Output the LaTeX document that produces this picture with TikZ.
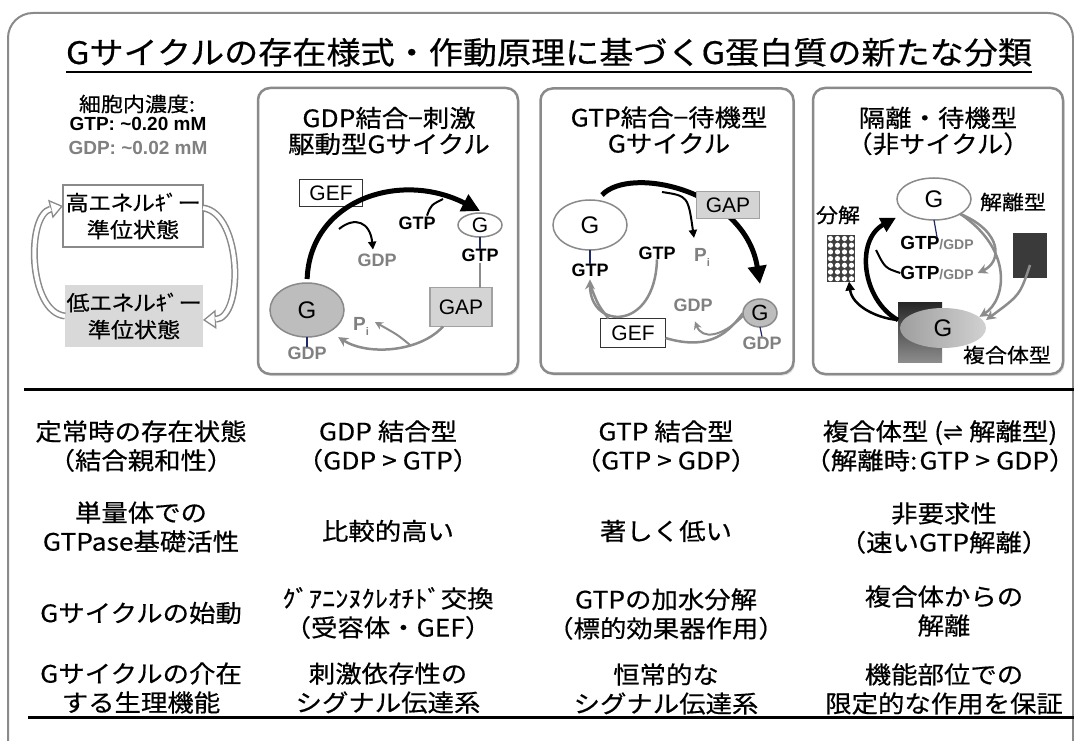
\documentclass[tikz,border=0pt]{standalone}
\usepackage{fontspec}
\setmainfont{Noto Sans CJK JP}[FakeStretch=1.1,FakeBold=0.5]
\newfontfamily\jpp{Noto Sans CJK JP}[FakeStretch=1.1,FakeBold=0.5,RawFeature=+palt]
\newfontfamily\arial{Liberation Sans}
\newfontfamily\dejavu{DejaVu Sans}
\usetikzlibrary{arrows.meta,shapes.geometric,shadows}
\definecolor{bord}{HTML}{8A8A8A}
\definecolor{gtxt}{HTML}{808080}
\definecolor{garr}{HTML}{8C8C8C}
\definecolor{gapfill}{HTML}{D4D4D4}
\definecolor{lofill}{HTML}{D9D9D9}
\definecolor{gfill}{HTML}{BDBDBD}
\definecolor{darkbox}{HTML}{3A3A3A}
\definecolor{tickc}{HTML}{1F2A6B}
\begin{document}
\begin{tikzpicture}[x=1pt,y=-1pt,every node/.style={inner sep=0pt,outer sep=0pt}]
\tikzset{
 panel/.style={draw=bord,line width=2.5pt,rounded corners=12pt,fill=white,
   drop shadow={shadow xshift=1.5pt,shadow yshift=-2pt,opacity=0.25}},
 ptitle/.style={font=\fontsize{24}{26}\selectfont,align=center},
 tab/.style={font=\fontsize{24}{29}\selectfont,align=center},
 lbl/.style={font=\arial\bfseries\fontsize{18}{20}\selectfont},
 glbl/.style={lbl,text=gtxt},
 gfont/.style={font=\arial\fontsize{24}{26}\selectfont},
 boxlbl/.style={font=\arial\fontsize{21}{24}\selectfont},
 jlbl/.style={font=\fontsize{20}{22}\selectfont},
 gell/.style={ellipse,draw=bord,line width=1.5pt},
 thickarr/.style={line width=5pt,-{Triangle[length=18pt,width=18pt]}},
 blkarr/.style={line width=2pt,-{Triangle[length=8pt,width=8pt]}},
 grarr/.style={draw=garr,line width=2.5pt,-{Stealth[length=10pt,width=10pt]}},
 grline/.style={draw=garr,line width=2.5pt},
 tickl/.style={draw=tickc,line width=1.2pt},
 hollow/.style={draw=bord,line width=7pt,-{Triangle[length=13pt,width=19pt,fill=white,line width=1.3pt]}},
 hollowin/.style={draw=white,line width=4pt,shorten >=12.5pt}
}
\useasboundingbox (0,0) rectangle (1074,741);
\fill[white] (0,0) rectangle (1074,741);
% outer frame
\draw[bord,line width=2pt,rounded corners=25pt] (8,13) rectangle (1073,770);
% title
\node[anchor=base,font=\fontsize{31}{34}\selectfont] (title) at (549,64) {Gサイクルの存在様式・作動原理に基づくG蛋白質の新たな分類};
\draw[line width=2pt] ([yshift=-8pt]title.base west) -- ([yshift=-8pt]title.base east);

% ---------- left column ----------
\node[font=\fontsize{20}{22}\selectfont] (conc) at (137,104) {細胞内濃度:};
\node[font=\arial\bfseries\fontsize{19}{21}\selectfont] (gtpc) at (138,124) {GTP: \textasciitilde0.20 mM};
\node[font=\arial\bfseries\fontsize{19}{21}\selectfont,text=gtxt] (gdpc) at (138,148) {GDP: \textasciitilde0.02 mM};
\node[draw=bord,line width=1.3pt,fill=white,minimum width=140pt,minimum height=62pt,align=center,font=\jpp\fontsize{21}{27}\selectfont] (hi) at (133,216) {高エネルｷﾞー\\準位状態};
\node[fill=lofill,minimum width=138pt,minimum height=62pt,align=center,font=\jpp\fontsize{21}{27}\selectfont] (lo) at (134,316) {低エネルｷﾞー\\準位状態};
\draw[hollow] (lo.west) .. controls (28,312) and (26,215) .. ([yshift=10pt]hi.west);
\draw[hollowin] (lo.west) .. controls (28,312) and (26,215) .. ([yshift=10pt]hi.west);
\draw[hollow] ([yshift=8pt]hi.east) .. controls (242,213) and (244,318) .. ([yshift=-4pt]lo.east);
\draw[hollowin] ([yshift=8pt]hi.east) .. controls (242,213) and (244,318) .. ([yshift=-4pt]lo.east);

% ---------- panel 1 ----------
\node[panel,minimum width=260pt,minimum height=286pt] (p1) at (388,231) {};
\node[ptitle] (p1t) at (389,131) {GDP結合−刺激\\駆動型Gサイクル};
\node[draw=black!80,line width=1.3pt,fill=white,minimum width=63pt,minimum height=27pt,boxlbl] (gef1) at (331,193) {GEF};
\node[gell,fill=gfill,minimum width=74pt,minimum height=54pt,gfont] (gB1) at (307,310) {G};
\node[gell,fill=white,minimum width=44pt,minimum height=24pt,font=\arial\fontsize{21}{22}\selectfont] (gS1) at (480,225) {G};
\node[lbl] (gtp1a) at (480,255) {GTP};
\node[lbl] (gtp1b) at (417,223) {GTP};
\node[glbl] (gdp1b) at (377,260) {GDP};
\node[glbl] (gdp1a) at (307,353) {GDP};
\node[draw=bord!80,line width=1.3pt,fill=gapfill,minimum width=62pt,minimum height=39pt,boxlbl] (gap1) at (461,307) {GAP};
\node[glbl,font=\arial\bfseries\fontsize{19}{20}\selectfont] (pi1) at (361,326) {P\raisebox{-5pt}{\fontsize{11}{12}\selectfont i}};
\draw[thickarr,shorten <=4pt] (gB1.north) .. controls (310,200) and (400,170) .. ([yshift=2pt]gS1.north);
\coordinate (a1s) at (339,229);
\draw[blkarr] (a1s) .. controls (355,216) and (370,222) .. ([xshift=-4pt,yshift=4pt]gdp1b.north);
\coordinate (a1e) at (443,199);
\draw[line width=2pt] ([xshift=10pt,yshift=1pt]gtp1b.north) .. controls (431,205) .. (a1e);
\draw[tickl] (gS1.south) -- (gtp1a.north);
\draw[grline] ([yshift=-2pt]gtp1a.south) -- (gtp1a.south |- gap1.north);
\draw[grarr] ([xshift=13pt]gap1.south west) .. controls (420,352) and (368,356) .. ([xshift=5pt,yshift=-8pt]gB1.south east);
\coordinate (pis) at (410,345);
\draw[draw=garr,line width=2pt,-{Stealth[length=8pt,width=8pt]}] (pis) .. controls (398,335) .. ([xshift=6pt,yshift=4pt]pi1.east);
\draw[tickl] (gB1.south) -- (gdp1a.north);

% ---------- panel 2 ----------
\node[panel,minimum width=253pt,minimum height=285pt] (p2) at (667,231) {};
\node[ptitle] (p2t) at (669,130) {GTP結合−待機型\\Gサイクル};
\node[gell,fill=white,minimum width=74pt,minimum height=50pt,gfont] (gM2) at (590,225) {G};
\node[lbl] (gtp2a) at (590,270) {GTP};
\node[lbl] (gtp2b) at (657,253) {GTP};
\node[glbl,font=\arial\bfseries\fontsize{19}{20}\selectfont] (pi2) at (702,257) {P\raisebox{-5pt}{\fontsize{11}{12}\selectfont i}};
\node[gell,fill=gfill,minimum width=34pt,minimum height=28pt,font=\arial\fontsize{22}{24}\selectfont] (gS2) at (760,313) {G};
\node[glbl] (gdp2a) at (762,343) {GDP};
\node[glbl] (gdp2b) at (693,305) {GDP};
\node[draw=black!80,line width=1.3pt,fill=white,minimum width=65pt,minimum height=29pt,boxlbl] (gef2) at (633,333) {GEF};
\draw[thickarr] ([xshift=12pt,yshift=5pt]gM2.north) .. controls (630,165) and (745,190) .. ([yshift=15pt]gS2.north);
\node[draw=bord!80,line width=1.3pt,fill=gapfill,minimum width=63pt,minimum height=27pt,boxlbl] (gap2) at (728,205) {GAP};
\coordinate (b2s) at (662,192);
\draw[blkarr] (b2s) .. controls (688,196) .. ([xshift=-8pt,yshift=10pt]pi2.north);
\draw[tickl] (gM2.south) -- (gtp2a.north);
\draw[grarr] (gtp2b.south) .. controls (655,332) and (590,330) .. ([yshift=-3pt]gtp2a.south);
\draw[grline] ([xshift=8pt]gef2.north west) .. controls (598,305) .. ([yshift=-8pt]gtp2a.south);
\draw[grline] ([yshift=-5pt]gef2.east) .. controls (712,352) and (730,330) .. (gS2.west);
\draw[draw=garr,line width=2pt,-{Stealth[length=8pt,width=8pt]}] ([yshift=-3pt]gS2.west) .. controls (722,337) and (702,340) .. ([xshift=2pt,yshift=-10pt]gdp2b.south);
\draw[tickl] (gS2.south) -- (gdp2a.north);

% ---------- panel 3 ----------
\node[panel,minimum width=250pt,minimum height=286pt] (p3) at (938,231) {};
\node[ptitle] (p3t) at (938,131) {隔離・待機型\\（非サイクル）};
\node[gell,fill=white,minimum width=74pt,minimum height=42pt,gfont] (gT3) at (934,199) {G};
\node[jlbl] (dis3) at (1013,202) {解離型};
\node[jlbl] (bun3) at (838,215) {分解};
\node[fill=black!75,minimum width=28pt,minimum height=47pt] (chk3) at (841,258) {};
\foreach \i in {0,...,3}{\foreach \j in {0,...,6}{
  \fill[white] (830.5+7*\i,238.5+6.7*\j) circle (2.6pt);}}
\node[fill=darkbox,minimum width=34pt,minimum height=45pt] (dk3) at (1030,255) {};
\node[font=\arial\bfseries\fontsize{19}{20}\selectfont] (gg3a) at (937,243) {GTP{\color{gtxt}\fontsize{14}{15}\selectfont/GDP}};
\node[font=\arial\bfseries\fontsize{19}{20}\selectfont] (gg3b) at (937,273) {GTP{\color{gtxt}\fontsize{14}{15}\selectfont/GDP}};
\node[top color=black!85,bottom color=black!45,minimum width=44pt,minimum height=60pt] (cx3) at (920,332) {};
\node[ellipse,left color=black!38,right color=black!18,minimum width=86pt,minimum height=40pt,gfont] (gC3) at (943,328) {G};
\node[jlbl] (fk3) at (1007,355) {複合体型};
\draw[tickl] (gT3.south) -- ([yshift=-1pt]gg3a.north);
\draw[line width=2.5pt,-{Triangle[length=9pt,width=9pt]}] ([yshift=12pt]cx3.west) .. controls (875,318) and (852,305) .. ([xshift=8pt]chk3.south);
\draw[line width=4.5pt,-{Triangle[length=15pt,width=15pt]}] ([yshift=12pt]cx3.west) .. controls (862,300) and (855,240) .. ([xshift=-12pt,yshift=-4pt]gT3.south west);
\coordinate (c3e) at (876,250);
\draw[line width=2pt] (gg3b.west) .. controls (885,268) .. (c3e);
\draw[grarr] (gT3.south east) .. controls (1003,232) and (1002,262) .. ([xshift=4pt]gg3b.east);
\draw[grarr] (gT3.south east) .. controls (1014,250) and (1006,300) .. ([xshift=6pt,yshift=-3pt]gC3.north east);
\draw[grarr] ([yshift=-10pt]dk3.center) .. controls (1020,295) .. ([yshift=8pt]gC3.east);

% ---------- separators ----------
\draw[line width=3pt] (24,389) -- (1074,389);
\draw[line width=3pt] (28,717) -- (1074,717);

% ---------- table ----------
\node[tab] (r1c1) at (141,446) {定常時の存在状態\\（結合親和性）};
\node[tab] (r1c2) at (388,446) {GDP 結合型\\（GDP > GTP）};
\node[tab] (r1c3) at (666,446) {GTP 結合型\\（GTP > GDP）};
\node[tab] (r1c4) at (940,446) {複合体型 ({\dejavu ⇌} 解離型)\\（解離時:\kern2pt GTP > GDP）};
\node[tab] (r2c1) at (141,527) {単量体での\\GTPase基礎活性};
\node[tab] (r2c2) at (388,531) {比較的高い};
\node[tab] (r2c3) at (666,531) {著しく低い};
\node[tab] (r2c4) at (944,528) {非要求性\\（速いGTP解離）};
\node[tab] (r3c1) at (141,613) {Gサイクルの始動};
\node[tab] (r3c2) at (388,613) {ｸﾞｱﾆﾝﾇｸﾚｵﾁﾄﾞ交換\\（受容体・GEF）};
\node[tab] (r3c3) at (666,614) {GTPの加水分解\\（標的効果器作用）};
\node[tab] (r3c4) at (944,611) {複合体からの\\解離};
\node[tab] (r4c1) at (141,688) {Gサイクルの介在\\する生理機能};
\node[tab] (r4c2) at (388,688) {刺激依存性の\\シグナル伝達系};
\node[tab] (r4c3) at (666,689) {恒常的な\\シグナル伝達系};
\node[tab] (r4c4) at (944,689) {機能部位での\\限定的な作用を保証};
\end{tikzpicture}
\end{document}
